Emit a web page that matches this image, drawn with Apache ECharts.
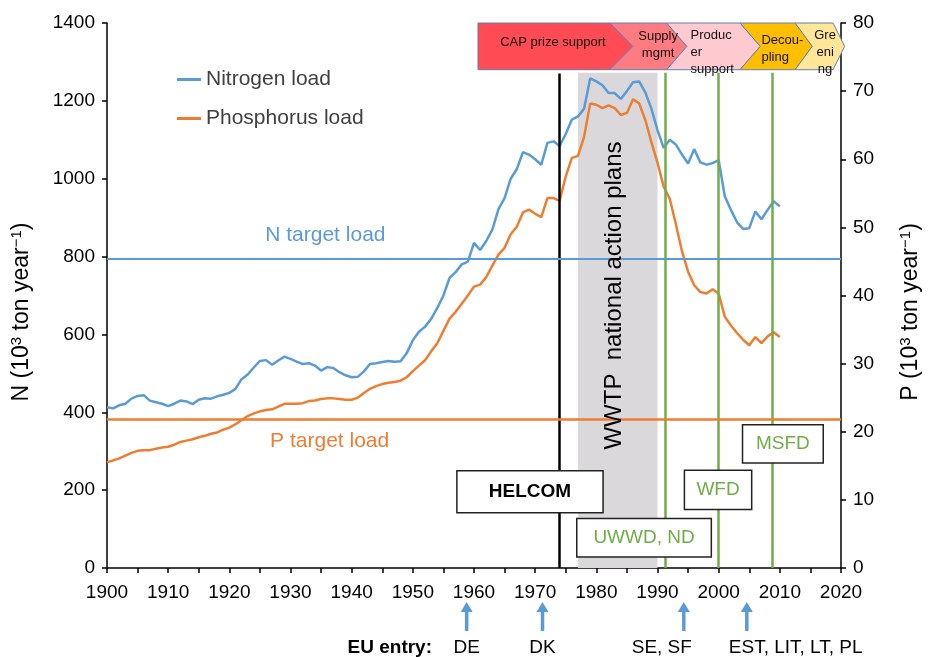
<!DOCTYPE html>
<html>
<head>
<meta charset="utf-8">
<script src="https://cdn.jsdelivr.net/npm/echarts@6/dist/echarts.min.js"></script>
<style>
  html, body { margin: 0; padding: 0; background: #fff; }
  #chart { width: 928px; height: 657px; }
</style>
</head>
<body>
<div id="chart"></div>
<script>
// Baltic Sea N and P loads, 1900-2010
const firstYear = 1900;
const nitrogenLoad = [
  413, 410, 418, 422, 435, 442, 444, 430, 426, 422,
  416, 422, 430, 428, 421, 432, 436, 435, 441, 445,
  450, 460, 485, 497, 515, 532, 534, 522, 533, 543,
  537, 530, 524, 526, 520, 507, 516, 514, 503, 495,
  490, 491, 505, 524, 526, 529, 532, 530, 531, 552,
  585, 607, 620, 640, 668, 700, 745, 760, 780, 787,
  835, 817, 840, 869, 922, 950, 1000, 1025, 1068, 1062,
  1050, 1036, 1092, 1096, 1084, 1115, 1152, 1160, 1180, 1258,
  1250, 1240, 1220, 1220, 1205, 1225, 1248, 1250, 1222, 1180,
  1125, 1079, 1100, 1088, 1062, 1039, 1076, 1042, 1036, 1040,
  1048, 955, 920, 888, 871, 873, 916, 896, 920, 942,
  929
];
const phosphorusLoad = [
  15.5, 15.8, 16.1, 16.5, 16.9, 17.2, 17.3, 17.3, 17.5, 17.7,
  17.8, 18.1, 18.5, 18.7, 18.9, 19.2, 19.4, 19.7, 19.9, 20.3,
  20.6, 21.1, 21.7, 22.3, 22.7, 23.0, 23.2, 23.3, 23.7, 24.1,
  24.1, 24.1, 24.2, 24.5, 24.6, 24.8, 24.9, 24.9, 24.8, 24.7,
  24.7, 25.0, 25.7, 26.3, 26.7, 27.0, 27.2, 27.3, 27.5, 28.0,
  28.9, 29.7, 30.5, 31.8, 33.0, 34.8, 36.6, 37.6, 38.8, 40.0,
  41.3, 41.6, 42.7, 44.4, 46.0, 47.0, 49.0, 50.1, 52.2, 52.6,
  52.0, 51.5, 54.3, 54.3, 53.9, 57.5, 60.2, 60.5, 63.3, 68.2,
  68.0, 67.5, 67.9, 67.5, 66.5, 66.8, 68.8, 68.2, 65.8, 62.5,
  59.5, 56.0, 54.2, 50.5, 46.5, 43.5, 41.5, 40.5, 40.3, 40.9,
  40.3, 36.9, 35.6, 34.5, 33.5, 32.7, 33.9, 33.0, 34.0, 34.6,
  33.9
];
const nTarget = 795;
const pTarget = 21.8;
const helcomYear = 1974;
const directiveYears = [1991.3, 2000, 2008.7];
const wwtpPeriod = [1977, 1990];
const euEntryYears = [1958.8, 1971.2, 1994.3, 2004.6];
const euEntryLabels = ['DE', 'DK', 'SE, SF', 'EST, LIT, LT, PL'];

const FONT = 'Liberation Sans, Arial, sans-serif';
const BLUE = '#5b9bd5';
const ORANGE = '#ed7d31';
const GREEN = '#70ad47';

const nData = nitrogenLoad.map((v, i) => [firstYear + i, v]);
const pData = phosphorusLoad.map((v, i) => [firstYear + i, v]);

const plain = v => String(v);

const chart = echarts.init(document.getElementById('chart'));

chart.setOption({
  animation: false,
  grid: { left: 107, right: 87, top: 23, bottom: 89 },
  legend: {
    data: ['Nitrogen load', 'Phosphorus load'],
    orient: 'vertical',
    left: 172,
    top: 64,
    icon: 'rect',
    itemWidth: 24,
    itemHeight: 3,
    itemGap: 18,
    textStyle: { fontFamily: FONT, fontSize: 21, color: '#404040' }
  },
  xAxis: {
    type: 'value',
    min: 1900,
    max: 2020,
    interval: 10,
    splitLine: { show: false },
    axisLine: { lineStyle: { color: '#000', width: 1.5 } },
    axisTick: { length: 5, lineStyle: { color: '#000', width: 1.5 } },
    minorTick: { show: true, splitNumber: 2, length: 5, lineStyle: { color: '#000', width: 1.5 } },
    axisLabel: { fontFamily: FONT, fontSize: 19, color: '#000', margin: 15, formatter: plain }
  },
  yAxis: [
    {
      type: 'value',
      min: 0,
      max: 1400,
      interval: 200,
      splitLine: { show: false },
      axisLine: { show: true, lineStyle: { color: '#000', width: 1.5 } },
      axisTick: { show: true, length: 5, lineStyle: { color: '#000', width: 1.5 } },
      axisLabel: { fontFamily: FONT, fontSize: 19, color: '#000', margin: 12, formatter: plain }
    },
    {
      type: 'value',
      min: 0,
      max: 80,
      interval: 10,
      position: 'right',
      splitLine: { show: false },
      axisLine: { show: true, lineStyle: { color: '#000', width: 1.5 } },
      axisTick: { show: true, length: 5, lineStyle: { color: '#000', width: 1.5 } },
      axisLabel: { fontFamily: FONT, fontSize: 19, color: '#000', margin: 12, formatter: plain }
    }
  ],
  series: [
    {
      name: 'background',
      type: 'line',
      data: [],
      z: 1,
      silent: true,
      markArea: {
        silent: true,
        itemStyle: { color: '#dbd8dc' },
        data: [[{ coord: [wwtpPeriod[0], 0] }, { coord: [wwtpPeriod[1], 1272] }]]
      },
      markLine: {
        silent: true,
        symbol: ['none', 'none'],
        label: { show: false },
        data: [
          [{ coord: [helcomYear, 0], lineStyle: { color: '#000', width: 2.5, type: 'solid' } },
           { coord: [helcomYear, 1270] }]
        ].concat(directiveYears.map(y => [
          { coord: [y, 0], lineStyle: { color: GREEN, width: 2.5, type: 'solid' } },
          { coord: [y, 1272] }
        ]))
      }
    },
    {
      name: 'Nitrogen load',
      type: 'line',
      data: nData,
      symbol: 'none',
      z: 3,
      lineStyle: { color: BLUE, width: 2.5 },
      itemStyle: { color: BLUE },
      markLine: {
        silent: true,
        symbol: ['none', 'none'],
        label: { show: false },
        lineStyle: { color: BLUE, width: 2, type: 'solid' },
        data: [{ yAxis: nTarget }]
      }
    },
    {
      name: 'Phosphorus load',
      type: 'line',
      yAxisIndex: 1,
      data: pData,
      symbol: 'none',
      z: 3,
      lineStyle: { color: ORANGE, width: 2.5 },
      itemStyle: { color: ORANGE },
      markLine: {
        silent: true,
        symbol: ['none', 'none'],
        label: { show: false },
        lineStyle: { color: ORANGE, width: 2.5, type: 'solid' },
        data: [{ yAxis: pTarget }]
      }
    }
  ]
});

// annotations placed in data units and converted through the axes
const px = (x, y) => chart.convertToPixel({ xAxisIndex: 0, yAxisIndex: 0 }, [x, y]);
const g = [];
const Z = 100;

// axis names
function axisName(x, letter) {
  g.push({
    type: 'text', x: x, y: 312, rotation: Math.PI / 2, z: Z,
    style: {
      text: '{m|' + letter + ' (10}{s|3}{m| ton year}{s|\u22121}{m|)}',
      align: 'center', verticalAlign: 'middle',
      rich: {
        m: { fontFamily: FONT, fontSize: 23, fill: '#000' },
        s: { fontFamily: FONT, fontSize: 15, fill: '#000', verticalAlign: 'top', padding: [0, 0, 10, 0] }
      }
    }
  });
}
axisName(22, 'N');
axisName(911, 'P');

// target labels
[[1935.7, 854, 'N target load', BLUE], [1936.4, 325, 'P target load', ORANGE]].forEach(t => {
  const p = px(t[0], t[1]);
  g.push({ type: 'text', x: p[0], y: p[1], z: Z,
    style: { text: t[2], fill: t[3], fontFamily: FONT, fontSize: 21, align: 'center', verticalAlign: 'middle' } });
});

// WWTP text
(function () {
  const p = px(1983, 700);
  g.push({ type: 'text', x: p[0], y: p[1], rotation: Math.PI / 2, z: Z,
    style: { text: 'WWTP  national action plans', fill: '#000', fontFamily: FONT, fontSize: 24,
      align: 'center', verticalAlign: 'middle' } });
})();

// CAP chevrons
const chevrons = [
  { from: 1960.65, to: 1982.2, tip: 1986.0, notch: null, color: '#ff4b53', text: 'CAP prize support', tx: 1972.9, ty: 1350, align: 'center' },
  { from: 1982.2, to: 1991.5, tip: 1994.8, notch: 1986.0, color: '#ff7b82', text: 'Supply\nmgmt', tx: 1990.1, ty: 1343, align: 'center' },
  { from: 1991.5, to: 2003.5, tip: 2006.8, notch: 1994.8, color: '#ffc9d0', text: 'Produc\ner\nsupport', tx: 1995.4, ty: 1324, align: 'left' },
  { from: 2003.5, to: 2012.5, tip: 2015.3, notch: 2006.8, color: '#ffbf00', text: 'Decou-\npling', tx: 2007.0, ty: 1333, align: 'left' },
  { from: 2012.5, to: 2018.7, tip: 2020.6, notch: 2015.3, color: '#ffe699', text: 'Gre\neni\nng', tx: 2017.4, ty: 1324, align: 'center' }
];
chevrons.forEach(c => {
  const top = 1400, bot = 1280, mid = 1340;
  const pts = [px(c.from, top), px(c.to, top), px(c.tip, mid), px(c.to, bot), px(c.from, bot)];
  if (c.notch !== null) pts.push(px(c.notch, mid));
  g.push({ type: 'polygon', z: Z, shape: { points: pts },
    style: { fill: c.color, stroke: '#6080b0', lineWidth: 1 } });
});
chevrons.forEach(c => {
  const p = px(c.tx, c.ty);
  g.push({ type: 'text', x: p[0], y: p[1], z: Z + 1,
    style: { text: c.text, fill: '#111', fontFamily: FONT, fontSize: 13, lineHeight: 17,
      align: c.align, verticalAlign: 'middle' } });
});

// policy boxes
const boxes = [
  { text: 'HELCOM', x0: 1957.2, x1: 1981.1, y0: 250, y1: 142, color: '#000', bold: true },
  { text: 'UWWD, ND', x0: 1976.8, x1: 1998.8, y0: 127, y1: 28, color: GREEN, bold: false },
  { text: 'WFD', x0: 1994.4, x1: 2005.4, y0: 251, y1: 150, color: GREEN, bold: false },
  { text: 'MSFD', x0: 2003.9, x1: 2017.1, y0: 368, y1: 270, color: GREEN, bold: false }
];
boxes.forEach(b => {
  const a = px(b.x0, b.y0), c = px(b.x1, b.y1);
  g.push({ type: 'rect', z: Z, shape: { x: a[0], y: a[1], width: c[0] - a[0], height: c[1] - a[1] },
    style: { fill: '#fff', stroke: '#222', lineWidth: 1.5 } });
  g.push({ type: 'text', x: (a[0] + c[0]) / 2, y: (a[1] + c[1]) / 2, z: Z + 1,
    style: { text: b.text, fill: b.color, fontFamily: FONT, fontSize: 19,
      fontWeight: b.bold ? 'bold' : 'normal', align: 'center', verticalAlign: 'middle' } });
});

// EU entry arrows
const axisY = px(1900, 0)[1];
euEntryYears.forEach((yr, i) => {
  const x = px(yr, 0)[0];
  const head = axisY + 34, tail = axisY + 63;
  g.push({ type: 'line', z: Z, shape: { x1: x, y1: tail, x2: x, y2: head + 8 },
    style: { stroke: BLUE, lineWidth: 3.5 } });
  g.push({ type: 'polygon', z: Z, shape: { points: [[x, head], [x - 6, head + 10], [x + 6, head + 10]] },
    style: { fill: BLUE } });
  const align = i === 3 ? 'left' : 'center';
  const lx = i === 3 ? x - 18 : (i === 2 ? x - 22 : x);
  g.push({ type: 'text', x: lx, y: axisY + 80, z: Z,
    style: { text: euEntryLabels[i], fill: '#000', fontFamily: FONT, fontSize: 19, align: align, verticalAlign: 'middle' } });
});
g.push({ type: 'text', x: 432, y: axisY + 80, z: Z,
  style: { text: 'EU entry:', fill: '#000', fontFamily: FONT, fontSize: 19, fontWeight: 'bold', align: 'right', verticalAlign: 'middle' } });

chart.setOption({ graphic: g });
</script>
</body>
</html>
